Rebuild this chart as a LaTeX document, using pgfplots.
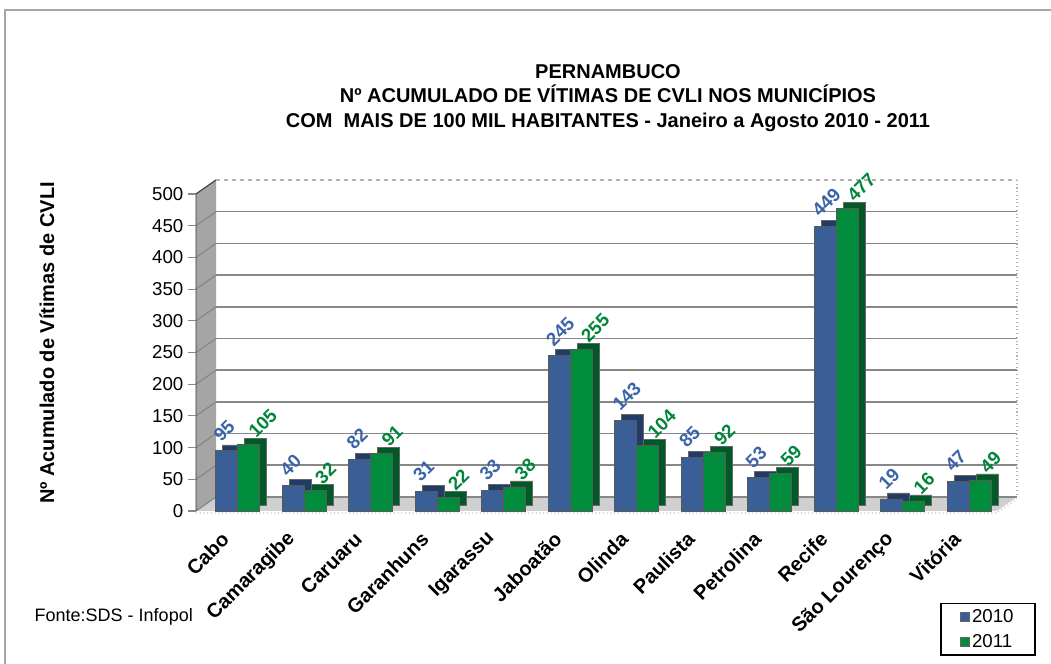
\documentclass[border=0pt]{standalone}
\usepackage{fontspec}
\setmainfont{Liberation Sans}
\usepackage{pgfplots}
\usepackage{pgfplotstable}
\pgfplotsset{compat=1.18}

\definecolor{bluef}{RGB}{58,94,150}
\definecolor{blued}{RGB}{34,60,104}
\definecolor{greenf}{RGB}{0,140,60}
\definecolor{greend}{RGB}{0,90,40}
\definecolor{bluel}{RGB}{60,100,168}
\definecolor{greenl}{RGB}{0,133,58}
\definecolor{wallg}{RGB}{165,165,165}
\definecolor{floorg}{RGB}{208,208,208}
\definecolor{gridg}{RGB}{135,135,135}

\pgfplotstableread{
x y2010 y2011
0 95 105
1 40 32
2 82 91
3 31 22
4 33 38
5 245 255
6 143 104
7 85 92
8 53 59
9 449 477
10 19 16
11 47 49
}\data

\begin{document}
\begin{tikzpicture}
\useasboundingbox (0,0) rectangle (788.25pt,498pt);
\begin{scope}[x=0.75pt,y=-0.75pt,yshift=498pt]
  \draw[gray!70, line width=1.5pt] (5,664) -- (5,10) -- (1051,10);
  \node[font=\bfseries\fontsize{15}{18.5}\selectfont, align=center] at (608,98)
    {PERNAMBUCO\\Nº ACUMULADO DE VÍTIMAS DE CVLI NOS MUNICÍPIOS\\COM\ \ MAIS DE 100 MIL HABITANTES - Janeiro a Agosto 2010 - 2011};
  \fill[wallg] (196,511) -- (196,194) -- (216,180) -- (216,497) -- cycle;
  \fill[floorg] (196,511) -- (997,511) -- (1017,497) -- (216,497) -- cycle;
  \foreach \v in {0,50,...,500} \draw[gridg, line width=0.9pt] (196,{511-0.634*\v}) -- (216,{497-0.634*\v});
  \draw[gray!40!black, line width=0.6pt] (196,511) -- (196,194) -- (216,180);
  \draw[gray!60, dotted, line width=0.8pt] (1017,180) -- (1017,497);
  \draw[gray!60, dashed, line width=0.8pt] (216,180) -- (1017,180);
  \draw[gray!50, dotted, line width=0.8pt] (196,513) -- (997,513) -- (1017,499);
  \node[anchor=west, font=\fontsize{13.5}{16}\selectfont] at (30,617) {Fonte:SDS - Infopol};
  \node[rotate=90, font=\bfseries\fontsize{15}{18}\selectfont] at (47,343) {Nº Acumulado de Vítimas de CVLI};
\end{scope}

% back wall grid
\begin{axis}[at={(162pt,125.25pt)}, anchor=south west, scale only axis,
  width=600.75pt, height=237.75pt, xmin=-0.624, xmax=11.42, ymin=0, ymax=500,
  ytick={0,50,...,450}, ymajorgrids,
  grid style={gridg, line width=1.2pt},
  axis line style={draw=none}, xtick=\empty, yticklabels={}, major tick length=0pt, tick style={draw=none}]
\end{axis}

\begin{axis}[at={(147pt,114.75pt)}, anchor=south west, scale only axis,
  width=600.75pt, height=237.75pt, xmin=-0.624, xmax=11.42, ymin=0, ymax=500,
  clip=false,
  ytick={0,50,...,500}, xtick={0,...,11}, ytick pos=left,
  xticklabels={Cabo,Camaragibe,Caruaru,Garanhuns,Igarassu,Jaboatão,Olinda,Paulista,Petrolina,Recife,São Lourenço,Vitória},
  axis line style={draw=none},
  ytick style={draw=gridg, line width=0.8pt}, xtick style={draw=none},
  tick align=outside, major tick length=6pt,
  /pgf/number format/assume math mode=true,
  yticklabel style={font=\fontsize{14}{16}\selectfont},
  xticklabel style={xshift=-9pt, yshift=-12.6pt, rotate=45, anchor=east, font=\bfseries\fontsize{15}{17}\selectfont, inner sep=0pt},
  legend style={at={(rel axis cs:0.929,-0.29)}, anchor=north west, draw=black, line width=1.1pt,
    font=\fontsize{14}{16}\selectfont, inner xsep=14pt, inner ysep=2pt, /tikz/row sep=4pt},
  legend cell align=left,
  legend image code/.code={\draw[#1, draw=black!60, line width=0.6pt] (0pt,-3.4pt) rectangle (6.8pt,3.4pt);},
]
\addplot[ybar, bar width=16.5pt, bar shift=-3pt, yshift=4.5pt, fill=blued, draw=black!60, line width=0.4pt, forget plot]
  table[x=x,y=y2010]{\data};
\addplot[ybar, bar width=16.5pt, bar shift=-8.25pt, fill=bluef, draw=black!65, line width=0.5pt,
  nodes near coords,
  nodes near coords style={font=\bfseries\fontsize{14}{16}\selectfont, text=bluel, xshift=-15.75pt, yshift=9.5pt, rotate=45, anchor=west, inner sep=0pt}]
  table[x=x,y=y2010]{\data};
\addplot[ybar, bar width=16.5pt, bar shift=13.5pt, yshift=4.5pt, fill=greend, draw=black!60, line width=0.4pt, forget plot]
  table[x=x,y=y2011]{\data};
\addplot[ybar, bar width=16.5pt, bar shift=8.25pt, fill=greenf, draw=black!65, line width=0.5pt,
  nodes near coords,
  nodes near coords style={font=\bfseries\fontsize{14}{16}\selectfont, text=greenl, xshift=10.5pt, yshift=7.5pt, rotate=45, anchor=west, inner sep=0pt}]
  table[x=x,y=y2011]{\data};
\legend{2010,2011}
\end{axis}
\end{tikzpicture}
\end{document}
